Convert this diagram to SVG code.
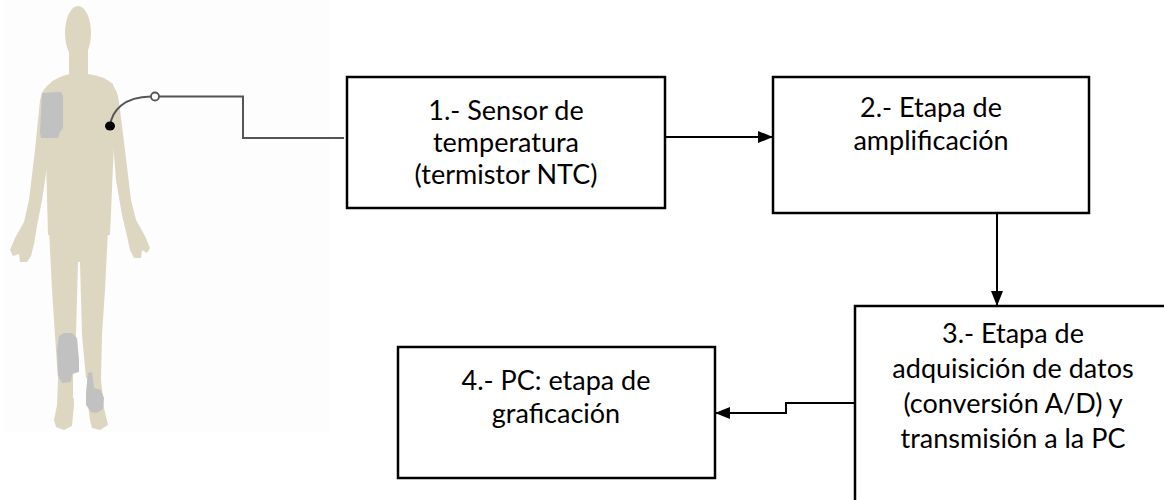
<svg xmlns="http://www.w3.org/2000/svg" width="1164" height="500" viewBox="0 0 1164 500">
  <defs>
    <marker id="arrow" viewBox="0 0 10 10" refX="10" refY="5" markerWidth="15" markerHeight="12" markerUnits="userSpaceOnUse" orient="auto" preserveAspectRatio="none">
      <path d="M0,0 L10,5 L0,10 Z" fill="#000"/>
    </marker>
    <style>
      .box { fill: #fff; stroke: #000; stroke-width: 2.5; }
      .label { font-family: Lato, "Open Sans", sans-serif; font-size: 27px; fill: #000; text-anchor: middle; }
      .flow { fill: none; stroke: #000; stroke-width: 2; }
      .skin { fill: #ddd6c1; }
      .pad { fill: #c1c1c1; }
      .cable { fill: none; stroke: #555; stroke-width: 2; }
    </style>
  </defs>

  <rect width="1164" height="500" fill="#fff"/>

  <!-- patient silhouette with measurement pads -->
  <g id="patient">
    <rect x="4" y="0" width="326" height="432" fill="#fdfdfd"/>
    <g class="skin">
      <!-- head and neck -->
      <ellipse cx="78" cy="33" rx="13" ry="27"/>
      <rect x="69" y="50" width="19" height="30"/>
      <!-- torso -->
      <path d="M51,82 Q60,76 70,74 L88,74 Q104,76 113,84 L115,120 L110,235 L48,235 L45,120 Z"/>
      <!-- left arm and hand -->
      <path d="M52,82 Q42,88 40,100 L35,150 L29,200 L24,222 L15,238 L10,250 L13,256 L19,254 L20,262 L27,262 L31,256 L34,244 L37,226 L42,200 L48,160 L50,120 Z"/>
      <!-- right arm and hand -->
      <path d="M110,82 Q118,90 119,102 L125,150 L131,200 L136,220 L145,236 L150,248 L147,253 L142,250 L141,258 L134,258 L130,250 L127,236 L122,215 L116,180 L112,130 Z"/>
      <!-- legs -->
      <path d="M49,230 L52,290 L55,335 L58,380 L57,405 L54,420 L56,427 L64,430 L72,426 L74,405 L73,378 L76,335 L78,262 L80,262 L82,335 L86,378 L88,405 L90,420 L92,428 L100,430 L108,425 L104,408 L101,380 L102,335 L105,290 L108,230 Z"/>
    </g>
    <!-- gap between the lower legs -->
    <rect x="73" y="378" width="14" height="20" fill="#fdfdfd"/>
    <!-- pads -->
    <path class="pad" d="M42,93 L61,92 L63,96 L63,128 L60,132 L58,138 L41,138 L40,132 Z"/>
    <path class="pad" d="M59,336 L64,333 L72,333 L77,338 L79,360 L79,372 L72,374 L71,382 L62,383 L58,375 L57,350 Z"/>
    <path class="pad" d="M88,373 L92,372 L94,388 L101,390 L104,398 L103,409 L97,413 L91,412 L86,405 L86,392 Z"/>
    <!-- temperature probe lead -->
    <path class="cable" d="M110,126 C112,110 124,97 151,96.5"/>
    <ellipse cx="110" cy="126" rx="5" ry="4.5" fill="#000"/>
    <circle cx="155" cy="96.5" r="4" fill="#fff" stroke="#555" stroke-width="1.8"/>
    <path class="cable" d="M159,96.5 L243,96.5 L243,138 L344,138"/>
  </g>

  <!-- connectors -->
  <g id="connectors">
    <path class="flow" d="M665,137 L773,137" marker-end="url(#arrow)"/>
    <path class="flow" d="M997,213 L997,306" marker-end="url(#arrow)"/>
    <path class="flow" d="M855,403 L786,403 L786,413 L715,413" marker-end="url(#arrow)"/>
  </g>

  <g id="node1">
    <rect class="box" x="347" y="77" width="318" height="131"/>
    <text class="label" x="506" y="120">1.- Sensor de</text>
    <text class="label" x="506" y="152">temperatura</text>
    <text class="label" x="506" y="184">(termistor NTC)</text>
  </g>

  <g id="node2">
    <rect class="box" x="773" y="77" width="316" height="136"/>
    <text class="label" x="931" y="117">2.- Etapa de</text>
    <text class="label" x="931" y="150">amplificación</text>
  </g>

  <g id="node3">
    <rect class="box" x="855" y="306" width="318" height="204"/>
    <text class="label" x="1013" y="343">3.- Etapa de</text>
    <text class="label" x="1013" y="378">adquisición de datos</text>
    <text class="label" x="1013" y="413">(conversión A/D) y</text>
    <text class="label" x="1013" y="448">transmisión a la PC</text>
  </g>

  <g id="node4">
    <rect class="box" x="398" y="347" width="317" height="131"/>
    <text class="label" x="556" y="390">4.- PC: etapa de</text>
    <text class="label" x="556" y="423">graficación</text>
  </g>
</svg>
